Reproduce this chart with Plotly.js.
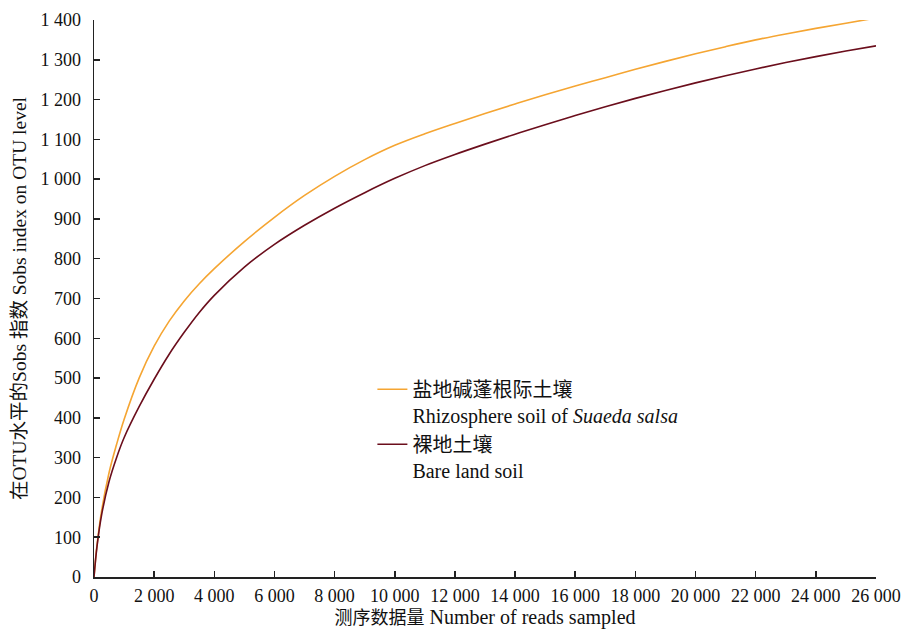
<!DOCTYPE html>
<html>
<head>
<meta charset="utf-8">
<script src="https://cdn.plot.ly/plotly-3.0.1.min.js"></script>
<style>html,body{margin:0;padding:0;background:#fff;}#chart{width:904px;height:632px;}</style>
</head>
<body>
<div id="chart"></div>
<script>
// Number of reads sampled
const readsSampled = [0, 100, 250, 500, 750, 1000, 1500, 2000, 2500, 3000, 3500, 4000, 5000, 6000, 7000, 8000, 9000, 10000, 11000, 12000, 13000, 14000, 15000, 16000, 17000, 18000, 19000, 20000, 21000, 22000, 23000, 24000, 25000, 26000];
// Sobs index – rhizosphere soil of Suaeda salsa
const sobsRhizosphere = [0, 80, 165, 262, 333, 396, 500, 580, 643, 694, 737, 775, 843, 904, 959, 1007, 1049, 1085, 1114, 1140, 1165, 1189, 1212, 1234, 1255, 1276, 1296, 1315, 1333, 1350, 1365, 1379, 1392, 1405];
// Sobs index – bare land soil
const sobsBare = [0, 77, 155, 240, 300, 350, 428, 497, 560, 615, 665, 708, 779, 836, 884, 927, 966, 1002, 1034, 1062, 1088, 1113, 1137, 1160, 1182, 1203, 1223, 1242, 1260, 1277, 1293, 1308, 1322, 1335];

const seriesNames = [
  "盐地碱蓬根际土壤<br>Rhizosphere soil of <i>Suaeda salsa</i>",
  "裸地土壤<br>Bare land soil"
];
const xTitle = "<span style='font-size:18px'>测序数据量</span> Number of reads sampled";
const yTitle = "在OTU水平的Sobs 指数 Sobs index on OTU level";

const FONT = "'Liberation Serif', 'Times New Roman', 'Noto Sans CJK SC', serif";

const traces = [
  {x: readsSampled, y: sobsRhizosphere, name: seriesNames[0], type: "scatter", mode: "lines",
   line: {color: "#F5A532", width: 1.6, shape: "spline", smoothing: 1}},
  {x: readsSampled, y: sobsBare, name: seriesNames[1], type: "scatter", mode: "lines",
   line: {color: "#6B0E1C", width: 1.6, shape: "spline", smoothing: 1}}
];

const axisCommon = {
  showgrid: false, zeroline: false, showline: true, linecolor: "#222", linewidth: 1.5,
  ticks: "inside", ticklen: 6, tickwidth: 1.5, tickcolor: "#222",
  tickformat: ",d", tickfont: {family: FONT, size: 18, color: "#111"}
};

const layout = {
  width: 904, height: 632,
  margin: {l: 94, r: 28, t: 20, b: 55},
  paper_bgcolor: "#fff", plot_bgcolor: "#fff",
  separators: ". ",
  font: {family: FONT, size: 18, color: "#111"},
  xaxis: Object.assign({}, axisCommon, {
    range: [0, 26000], dtick: 2000, tick0: 0, ticklabelstandoff: 2,
    title: {text: xTitle, font: {family: FONT, size: 20, color: "#111"}, standoff: 2}
  }),
  yaxis: Object.assign({}, axisCommon, {
    range: [0, 1400], dtick: 100, tick0: 0, ticklabelstandoff: 8,
    title: {text: yTitle, font: {family: FONT, size: 19.5, color: "#111"}, standoff: 8}
  }),
  showlegend: true,
  legend: {x: 0.356, y: 0.372, xanchor: "left", yanchor: "top", valign: "top",
    bgcolor: "rgba(0,0,0,0)", font: {family: FONT, size: 20, color: "#111"}, tracegroupgap: 4}
};

Plotly.newPlot("chart", traces, layout, {displayModeBar: false, staticPlot: true});
</script>
</body>
</html>
